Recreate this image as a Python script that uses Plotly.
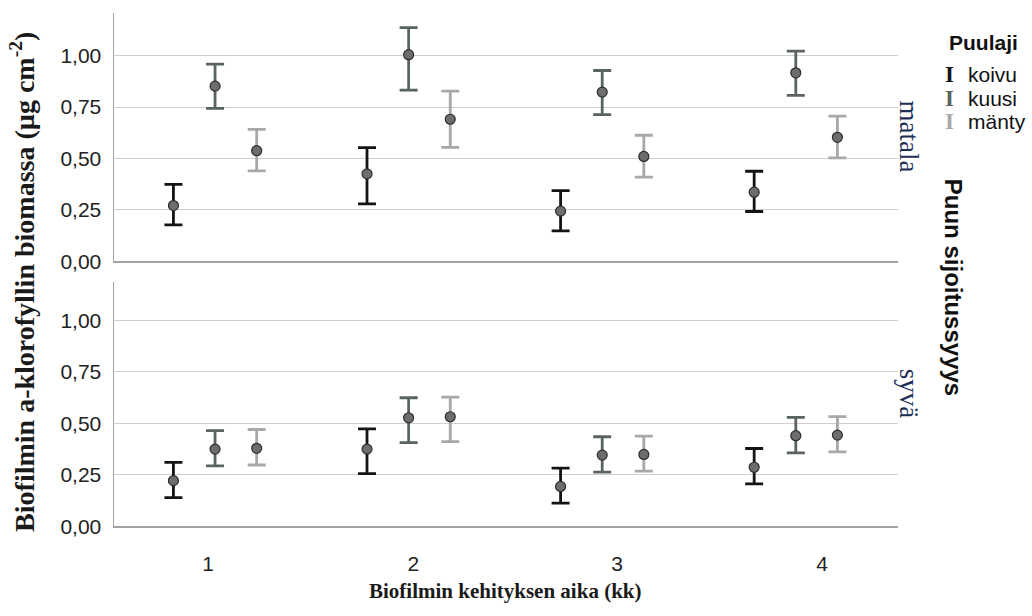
import plotly.graph_objects as go

# ---------------- data ----------------
time_months = [1, 2, 3, 4]
tick_labels = ["1", "2", "3", "4"]
species = ["koivu", "kuusi", "mänty"]
depths = ["matala", "syvä"]

# matala (shallow)
matala_koivu_mean = [0.271, 0.425, 0.244, 0.336]
matala_koivu_upper = [0.374, 0.553, 0.344, 0.438]
matala_koivu_lower = [0.177, 0.279, 0.148, 0.242]

matala_kuusi_mean = [0.852, 1.005, 0.823, 0.917]
matala_kuusi_upper = [0.959, 1.137, 0.928, 1.022]
matala_kuusi_lower = [0.744, 0.833, 0.713, 0.807]

matala_manty_mean = [0.538, 0.691, 0.510, 0.603]
matala_manty_upper = [0.642, 0.828, 0.613, 0.706]
matala_manty_lower = [0.440, 0.554, 0.409, 0.503]

# syvä (deep)
syva_koivu_mean = [0.222, 0.375, 0.194, 0.287]
syva_koivu_upper = [0.311, 0.473, 0.283, 0.378]
syva_koivu_lower = [0.140, 0.256, 0.113, 0.206]

syva_kuusi_mean = [0.375, 0.527, 0.346, 0.440]
syva_kuusi_upper = [0.465, 0.624, 0.435, 0.529]
syva_kuusi_lower = [0.294, 0.406, 0.263, 0.357]

syva_manty_mean = [0.379, 0.532, 0.349, 0.443]
syva_manty_upper = [0.470, 0.627, 0.438, 0.533]
syva_manty_lower = [0.298, 0.411, 0.268, 0.362]

y_ticks = [0.0, 0.25, 0.5, 0.75, 1.0]
y_tick_text = ["0,00", "0,25", "0,50", "0,75", "1,00"]

# ---------------- styling ----------------
W, H = 1032, 616
bar_colors = {"koivu": "#141414", "kuusi": "#59645e", "mänty": "#a9a7a7"}
offsets = {"koivu": -0.215, "kuusi": 0.0, "mänty": 0.215}
grid_col = "#cfcfcf"
axis_col = "#a3a3a3"
sans = "Liberation Sans, Arial, sans-serif"
serif = "Liberation Serif, Times New Roman, serif"

panels = {
    "matala": {
        "koivu": (matala_koivu_mean, matala_koivu_upper, matala_koivu_lower),
        "kuusi": (matala_kuusi_mean, matala_kuusi_upper, matala_kuusi_lower),
        "mänty": (matala_manty_mean, matala_manty_upper, matala_manty_lower),
    },
    "syvä": {
        "koivu": (syva_koivu_mean, syva_koivu_upper, syva_koivu_lower),
        "kuusi": (syva_kuusi_mean, syva_kuusi_upper, syva_kuusi_lower),
        "mänty": (syva_manty_mean, syva_manty_upper, syva_manty_lower),
    },
}

fig = go.Figure()
axis_ids = {"matala": ("x", "y"), "syvä": ("x2", "y2")}
for depth in depths:
    xa, ya = axis_ids[depth]
    for sp in species:
        mean, up, lo = panels[depth][sp]
        fig.add_trace(go.Scatter(
            x=[t + offsets[sp] for t in time_months],
            y=mean,
            mode="markers",
            name=sp,
            showlegend=False,
            hoverinfo="skip",
            xaxis=xa, yaxis=ya,
            marker=dict(size=10, color="#6d6d6d",
                        line=dict(color="#2e2e2e", width=1.2)),
            error_y=dict(type="data", symmetric=False,
                         array=[u - m for u, m in zip(up, mean)],
                         arrayminus=[m - l for m, l in zip(mean, lo)],
                         color=bar_colors[sp], thickness=2.8, width=9),
        ))

# window pixel geometry -> paper domains (margins are zero)
def px_x(p):
    return p / W

def px_y(p):
    return 1 - p / H

x_dom = [px_x(114), px_x(898)]
x_range = [0.478, 4.528]
tick_pos = [0.964, 2.024, 3.077, 4.136]

common_x = dict(range=x_range, domain=x_dom, showgrid=False, zeroline=False,
                showline=True, linecolor=axis_col, linewidth=1.5,
                ticks="", fixedrange=True)
common_y = dict(showgrid=True, gridcolor=grid_col, gridwidth=1.2,
                zeroline=False, showline=True, linecolor=axis_col, linewidth=1.5,
                tickvals=y_ticks, ticktext=y_tick_text, ticks="", fixedrange=True,
                tickfont=dict(family=sans, size=21, color="#222222"),
                ticklabelstandoff=7)

fig.update_layout(
    width=W, height=H,
    margin=dict(l=0, r=0, t=0, b=0),
    paper_bgcolor="white", plot_bgcolor="white",
    showlegend=False,
    xaxis=dict(**common_x, anchor="y", showticklabels=False),
    yaxis=dict(**common_y, domain=[px_y(266), px_y(13)], range=[0, 1.209], anchor="x"),
    xaxis2=dict(**common_x, anchor="y2", tickvals=tick_pos, ticktext=tick_labels,
                tickfont=dict(family=sans, size=21, color="#222222"),
                ticklabelstandoff=18),
    yaxis2=dict(**common_y, domain=[px_y(536), px_y(287)], range=[0, 1.186], anchor="x2"),
)

ann = []
# axis titles
ann.append(dict(text="<b>Biofilmin a-klorofyllin biomassa (µg cm<sup>-2</sup>)</b>",
                x=px_x(23), y=px_y(287), xref="paper", yref="paper",
                textangle=-90, showarrow=False,
                font=dict(family=serif, size=28, color="#1a1a1a"),
                xanchor="center", yanchor="middle"))
ann.append(dict(text="<b>Biofilmin kehityksen aika (kk)</b>",
                x=px_x(505), y=px_y(615), xref="paper", yref="paper",
                showarrow=False, font=dict(family=serif, size=21, color="#1a1a1a"),
                xanchor="center", yanchor="bottom", borderpad=0))
# facet labels
ann.append(dict(text="matala", x=px_x(909), y=px_y(139), xref="paper", yref="paper",
                textangle=90, showarrow=False,
                font=dict(family=serif, size=27, color="#1e2f55"),
                xanchor="center", yanchor="middle"))
ann.append(dict(text="syvä", x=px_x(909), y=px_y(401), xref="paper", yref="paper",
                textangle=90, showarrow=False,
                font=dict(family=serif, size=27, color="#1e2f55"),
                xanchor="center", yanchor="middle"))
ann.append(dict(text="<b>Puun sijoitussyyys</b>", x=px_x(953), y=px_y(292),
                xref="paper", yref="paper", textangle=90, showarrow=False,
                font=dict(family=sans, size=24, color="#111111"),
                xanchor="center", yanchor="middle"))
# legend
ann.append(dict(text="<b>Puulaji</b>", x=px_x(947), y=px_y(43), xref="paper", yref="paper",
                showarrow=False, font=dict(family=sans, size=21, color="#111111"),
                xanchor="left", yanchor="middle"))
leg_y = [76, 100, 124]
for sp, ly in zip(species, leg_y):
    ann.append(dict(text="<b>I</b>", x=px_x(949), y=px_y(ly), xref="paper", yref="paper",
                    showarrow=False, font=dict(family=serif, size=23, color=bar_colors[sp]),
                    xanchor="center", yanchor="middle"))
    ann.append(dict(text=sp, x=px_x(966), y=px_y(ly), xref="paper", yref="paper",
                    showarrow=False, font=dict(family=sans, size=21, color="#111111"),
                    xanchor="left", yanchor="middle"))

fig.update_layout(annotations=ann)

page_fix = (
    "var s=document.documentElement.style;s.margin='0';s.padding='0';s.overflow='hidden';"
    "var b=document.body.style;b.margin='0';b.padding='0';b.overflow='hidden';"
)
fig.write_html(
    "out.html",
    config={"displayModeBar": False, "staticPlot": True},
    post_script=page_fix,
)
